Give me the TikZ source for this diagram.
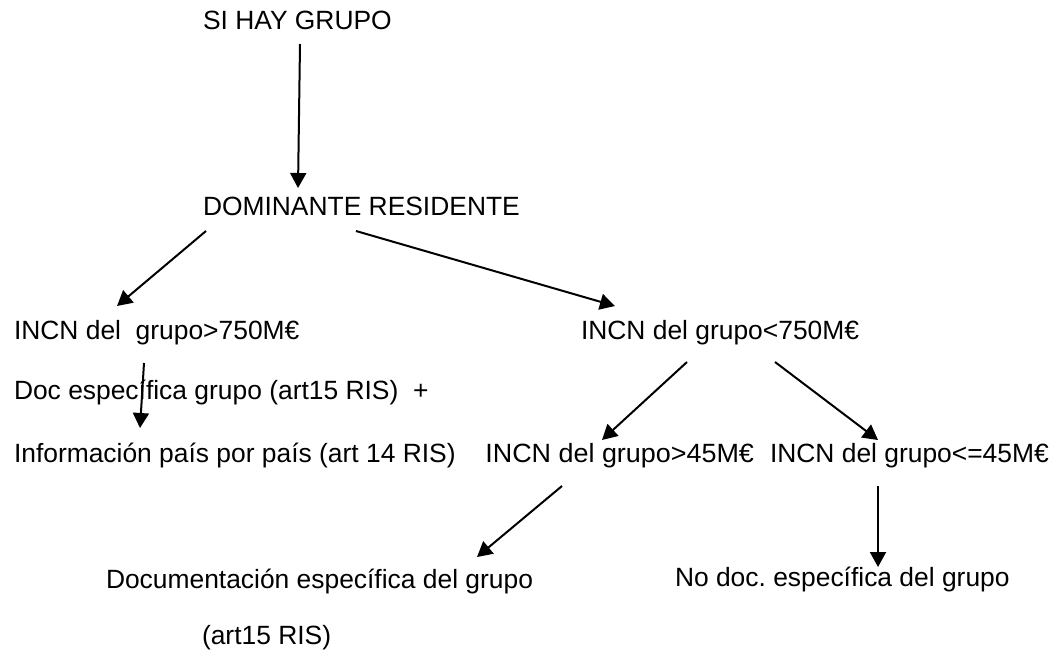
\documentclass[tikz,border=0pt]{standalone}
\usepackage{fontspec}
\setmainfont{Liberation Sans}
\usetikzlibrary{arrows.meta,calc}
\begin{document}
\frenchspacing
\begin{tikzpicture}[x=1pt,y=-1pt,
  lbl/.style={inner sep=0pt,outer sep=0pt,font=\fontsize{26.4}{30}\selectfont},
  conn/.style={line width=2pt,-{Triangle[length=15pt,width=16pt]}}]
\useasboundingbox (0,0) rectangle (1056,656);
\node[lbl,anchor=base west] (si) at (203,29) {SI HAY GRUPO};
\node[lbl,anchor=base west] (dom) at (203,215) {DOMINANTE RESIDENTE};
\node[lbl,anchor=base west] (g750) at (14,339) {INCN del\ \ grupo>750M€};
\node[lbl,anchor=base west] (l750) at (581,339) {INCN del grupo<750M€};
\node[lbl,anchor=base west] (doc) at (14,399) {Doc específica grupo (art15 RIS)\ \ +};
\node[lbl,anchor=base west] (info) at (14,462) {Información país por país (art 14 RIS)};
\node[lbl,anchor=base east] (g45) at (754,462) {\scalebox{1.02}[1]{INCN del grupo>45M€}};
\node[lbl,anchor=base west] (le45) at (770,462) {INCN del grupo<=45M€};
\node[lbl,anchor=base west] (docesp) at (106,588) {Documentación específica del grupo};
\node[lbl,anchor=base west] (nodoc) at (675,586) {No doc. específica del grupo};
\node[lbl,anchor=base west] (art) at (202,644) {(art15 RIS)};
\draw[conn] ($(si.base west)+(97,15)$) -- ($(dom.base west)+(95,-27)$);
\draw[conn] ($(dom.base west)+(3,16)$) -- ($(g750.base west)+(103,-33)$);
\draw[conn] ($(dom.base west)+(153,16)$) -- ($(l750.base west)+(34,-33)$);
\draw[conn] ($(g750.base west)+(130,24)$) -- ($(info.base west)+(126,-34)$);
\draw[conn] ($(l750.base west)+(106,23)$) -- ($(g45.base east)+(-152,-22)$);
\draw[conn] ($(l750.base west)+(194,23)$) -- ($(le45.base west)+(108,-22)$);
\draw[conn] ($(g45.base east)+(-192,24)$) -- ($(docesp.base west)+(371,-31)$);
\draw[conn] ($(le45.base west)+(108,24)$) -- ($(nodoc.base west)+(203,-19)$);
\end{tikzpicture}
\end{document}
